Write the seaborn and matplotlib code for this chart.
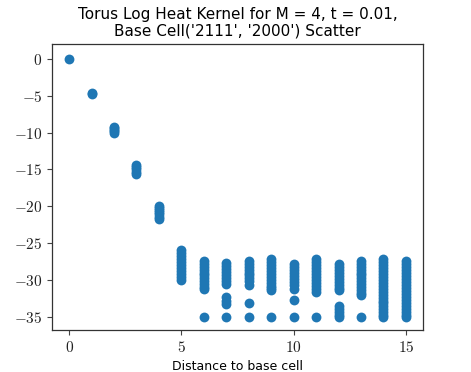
import numpy as np
import pandas as pd
import seaborn as sns
import matplotlib
import matplotlib.pyplot as plt
from matplotlib.ticker import FuncFormatter

# log heat kernel values, one list per distance
kernel_d0 = [0.0]
kernel_d1 = [-4.6, -4.7]
kernel_d2 = [-9.2, -9.4, -9.6, -9.8, -10.0]
kernel_d3 = [-14.4, -14.7, -15.0, -15.3, -15.6]
kernel_d4 = [-19.9, -20.2, -20.5, -20.8, -21.1, -21.4, -21.7]
kernel_d5 = [-26.0, -26.4, -26.8, -27.2, -27.6, -28.0, -28.4, -28.8, -29.2, -29.6, -30.0]
kernel_d6 = [-27.4, -27.8, -28.2, -28.6, -29.0, -29.4, -29.8, -30.2, -30.6, -31.0, -31.2, -35.0]
kernel_d7 = [-27.7, -28.1, -28.5, -28.9, -29.3, -29.7, -30.1, -30.5, -32.3, -32.8, -33.3, -35.0]
kernel_d8 = [-27.4, -27.8, -28.2, -28.6, -29.0, -29.4, -29.8, -30.2, -30.7, -33.1, -35.0]
kernel_d9 = [-27.2, -27.6, -28.0, -28.4, -28.8, -29.2, -29.6, -30.0, -30.4, -30.8, -31.1, -31.4, -35.0]
kernel_d10 = [-27.9, -28.3, -28.7, -29.1, -29.5, -29.9, -30.3, -30.7, -31.2, -32.7, -35.0]
kernel_d11 = [-27.2, -27.6, -28.0, -28.4, -28.8, -29.2, -29.6, -30.0, -30.4, -30.8, -31.2, -31.6, -35.0]
kernel_d12 = [-27.9, -28.3, -28.7, -29.1, -29.5, -29.9, -30.3, -30.7, -31.1, -31.4,
              -33.5, -33.9, -34.3, -34.7, -35.0]
kernel_d13 = [-27.4, -27.8, -28.2, -28.6, -29.0, -29.4, -29.8, -30.2, -30.6, -31.0, -31.4,
              -31.8, -32.1, -35.0]
kernel_d14 = [-27.2, -27.6, -28.0, -28.4, -28.8, -29.2, -29.6, -30.0, -30.4, -30.8, -31.2,
              -31.6, -32.0, -32.4, -32.8, -33.2, -33.6, -34.0, -34.4, -34.7, -35.0]
kernel_d15 = [-27.5, -27.9, -28.3, -28.7, -29.1, -29.5, -29.9, -30.3, -30.7, -31.1, -31.5,
              -31.9, -32.3, -32.7, -33.1, -33.5, -33.9, -34.3, -34.7, -35.0]

kernel_by_dist = [kernel_d0, kernel_d1, kernel_d2, kernel_d3, kernel_d4, kernel_d5,
                  kernel_d6, kernel_d7, kernel_d8, kernel_d9, kernel_d10, kernel_d11,
                  kernel_d12, kernel_d13, kernel_d14, kernel_d15]

x_ticks = [0, 5, 10, 15]
y_ticks = [0, -5, -10, -15, -20, -25, -30, -35]

rows = []
for d, vals in enumerate(kernel_by_dist):
    for v in vals:
        rows.append((d, v))
df = pd.DataFrame(rows, columns=["dist", "log_kernel"])

sns.set_style("ticks")
plt.rcParams['mathtext.fontset'] = 'cm'
plt.rcParams['font.family'] = ['DejaVu Sans']
plt.rcParams['text.color'] = 'black'

fig = plt.figure(figsize=(4.71, 3.72), dpi=100)
ax = fig.add_axes([0.111, 0.113, 0.7865, 0.769])

sns.scatterplot(data=df, x="dist", y="log_kernel", ax=ax, color="#1f77b4",
                s=50, linewidth=0, alpha=1.0)

ax.set_xlim(-0.75, 15.75)
ax.set_ylim(-36.8, 2.05)
ax.set_xticks(x_ticks)
ax.set_yticks(y_ticks)
fmt = FuncFormatter(lambda v, p: "$%d$" % v)
ax.xaxis.set_major_formatter(fmt)
ax.yaxis.set_major_formatter(fmt)
ax.tick_params(labelsize=11, length=3.5, width=0.8, color="#444444", labelcolor="#222222")
for sp in ax.spines.values():
    sp.set_color("#333333")
    sp.set_linewidth(0.9)

ax.set_xlabel("Distance to base cell", fontsize=9, color="black")
ax.set_ylabel("")
ax.set_title("Torus Log Heat Kernel for M = 4, t = 0.01,\nBase Cell('2111', '2000') Scatter",
             fontsize=11, linespacing=1.1, color="black")

fig.savefig("out.png", dpi=100)
